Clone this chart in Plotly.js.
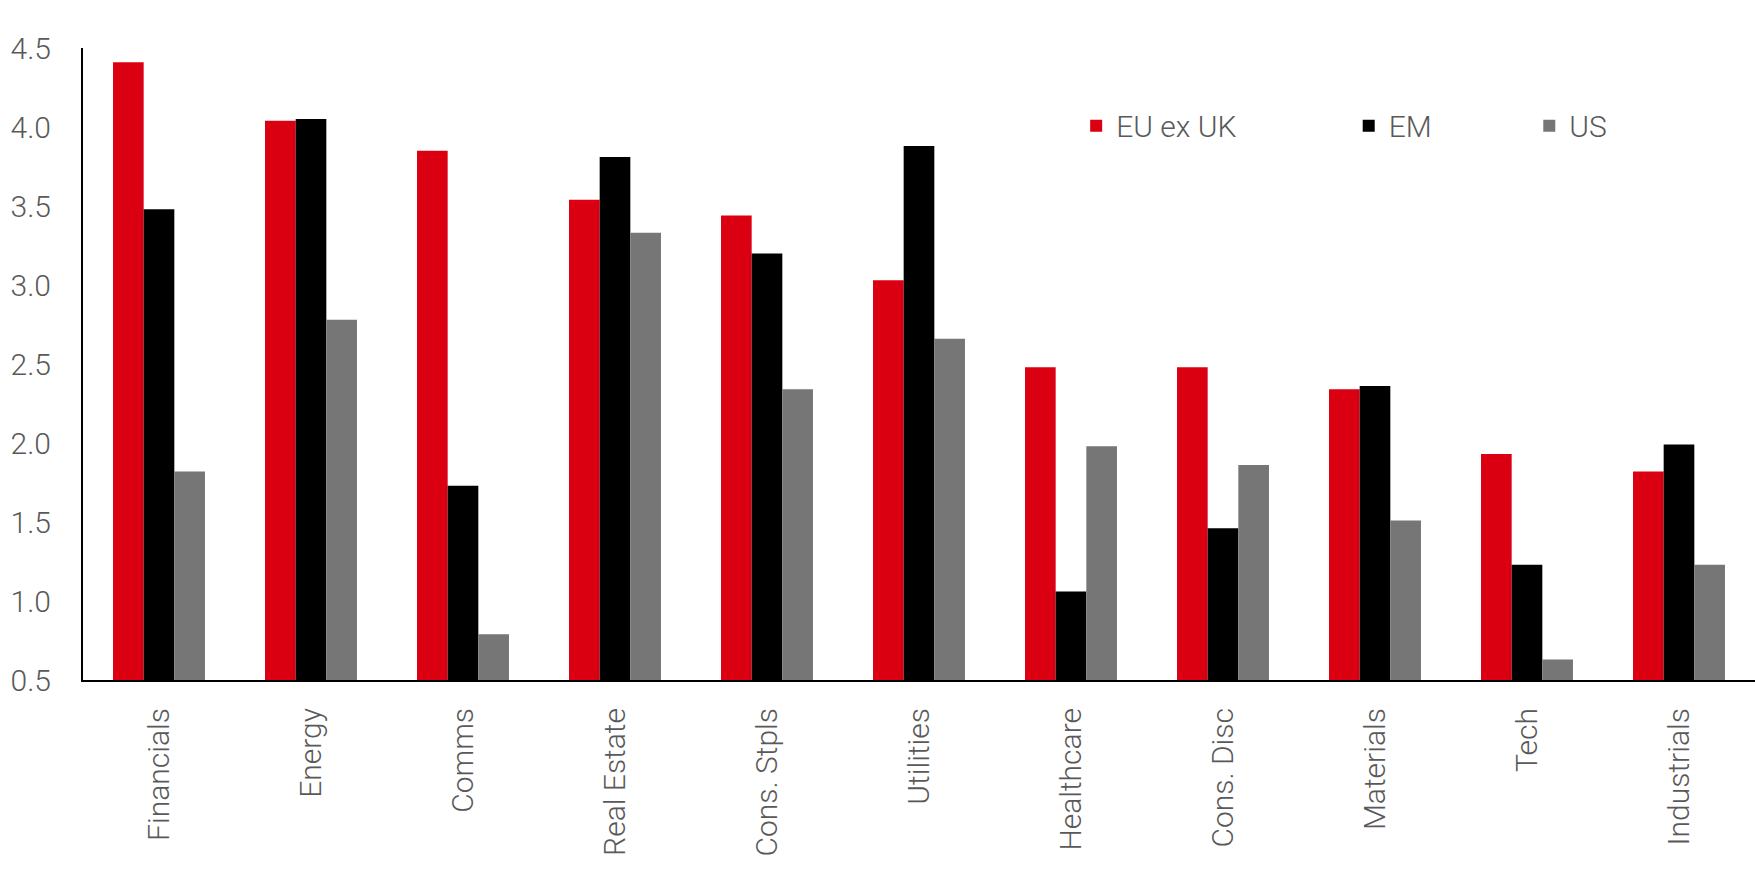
<!DOCTYPE html>
<html>
<head>
<meta charset="utf-8">
<script src="https://cdn.plot.ly/plotly-3.0.1.min.js"></script>
<style>
  html, body { margin: 0; padding: 0; background: #fff; }
  #chart { width: 1755px; height: 873px; }
</style>
</head>
<body>
<div id="chart"></div>
<script>
// Sector categories (x axis)
const sectors = ['Financials', 'Energy', 'Comms', 'Real Estate', 'Cons. Stpls', 'Utilities',
                 'Healthcare', 'Cons. Disc', 'Materials', 'Tech', 'Industrials'];

// Series values
const euExUk = [4.41, 4.04, 3.85, 3.54, 3.44, 3.03, 2.48, 2.48, 2.34, 1.93, 1.82];
const em     = [3.48, 4.05, 1.73, 3.81, 3.20, 3.88, 1.06, 1.46, 2.36, 1.23, 1.99];
const us     = [1.82, 2.78, 0.79, 3.33, 2.34, 2.66, 1.98, 1.86, 1.51, 0.63, 1.23];

const yTicks = [0.5, 1.0, 1.5, 2.0, 2.5, 3.0, 3.5, 4.0, 4.5];

const textFont = { family: 'Roboto, "Liberation Sans", sans-serif', size: 30, color: '#595959', weight: 300 };

function barTrace(name, values, color, legendId) {
    return {
        type: 'bar',
        name: name,
        x: sectors,
        y: values,
        marker: { color: color, line: { width: 0 } },
        legend: legendId,
        hoverinfo: 'skip'
    };
}

const traces = [
    barTrace('EU ex UK', euExUk, '#DB0011', 'legend'),
    barTrace('EM', em, '#000000', 'legend2'),
    barTrace('US', us, '#767676', 'legend3')
];

const legendBase = {
    orientation: 'h',
    yanchor: 'middle',
    xanchor: 'left',
    y: 0.877,
    font: textFont,
    bgcolor: 'rgba(0,0,0,0)',
    borderwidth: 0
};

const layout = {
    width: 1755,
    height: 873,
    margin: { t: 48, r: 0, b: 193, l: 83 },
    paper_bgcolor: '#FFFFFF',
    plot_bgcolor: '#FFFFFF',
    barmode: 'group',
    bargap: 0.395,
    bargroupgap: 0,
    font: textFont,
    xaxis: {
        type: 'category',
        tickangle: -90,
        tickfont: textFont,
        showgrid: false,
        showline: true,
        linecolor: '#000000',
        linewidth: 2,
        ticks: '',
        ticklabelstandoff: 14,
        fixedrange: true
    },
    yaxis: {
        range: [0.5, 4.5],
        tickvals: yTicks,
        ticktext: yTicks.map(v => v.toFixed(1)),
        tickfont: textFont,
        showgrid: false,
        zeroline: false,
        showline: true,
        linecolor: '#000000',
        linewidth: 2,
        ticks: '',
        ticklabelstandoff: 24,
        fixedrange: true
    },
    showlegend: true,
    legend: Object.assign({}, legendBase, { x: 0.594 }),
    legend2: Object.assign({}, legendBase, { x: 0.757 }),
    legend3: Object.assign({}, legendBase, { x: 0.865 })
};

Plotly.newPlot('chart', traces, layout, { displayModeBar: false, staticPlot: true });
</script>
</body>
</html>
